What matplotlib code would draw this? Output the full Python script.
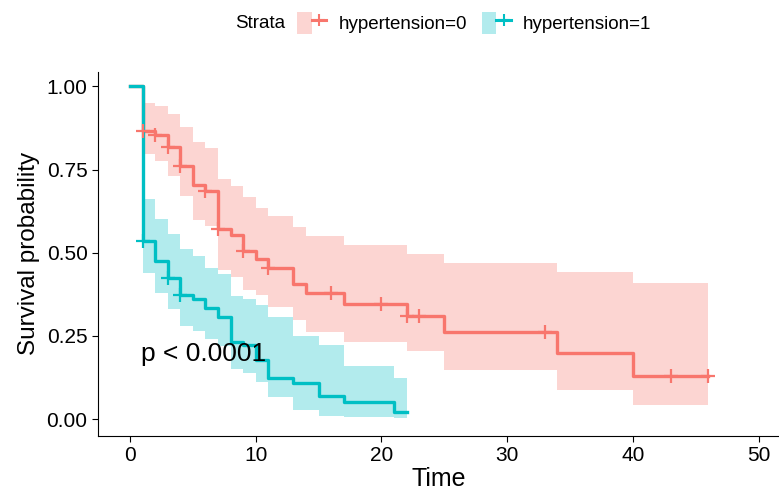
import numpy as np
import matplotlib
matplotlib.use("Agg")
import matplotlib.pyplot as plt
from matplotlib.patches import Patch
from matplotlib.lines import Line2D
from matplotlib.legend_handler import HandlerTuple

plt.rcParams['font.family'] = ['Liberation Sans', 'DejaVu Sans']

# hypertension=0
red_time = [0, 1, 2, 3, 4, 5, 6, 7, 8, 9, 10, 11, 13, 14, 17, 22, 25, 34, 40, 46]
red_surv = [1.0, 0.867, 0.855, 0.818, 0.761, 0.704, 0.684, 0.571, 0.552, 0.504,
            0.48, 0.453, 0.407, 0.38, 0.346, 0.311, 0.262, 0.198, 0.13, 0.13]
red_upper = [1.0, 0.95, 0.94, 0.917, 0.877, 0.833, 0.815, 0.722, 0.699, 0.668,
             0.635, 0.61, 0.578, 0.551, 0.524, 0.497, 0.47, 0.443, 0.41, 0.41]
red_lower = [1.0, 0.797, 0.776, 0.729, 0.669, 0.599, 0.579, 0.448, 0.428, 0.388,
             0.373, 0.338, 0.297, 0.263, 0.233, 0.203, 0.146, 0.087, 0.042, 0.042]
red_censor = [1, 2, 3, 4, 6, 7, 9, 11, 16, 20, 22, 23, 33, 43, 46]

# hypertension=1
teal_time = [0, 1, 2, 3, 4, 5, 6, 7, 8, 9, 10, 11, 13, 15, 17, 21, 22]
teal_surv = [1.0, 0.535, 0.475, 0.423, 0.374, 0.36, 0.334, 0.308, 0.233, 0.223,
             0.178, 0.122, 0.107, 0.069, 0.052, 0.022, 0.022]
teal_upper = [1.0, 0.66, 0.60, 0.555, 0.51, 0.49, 0.455, 0.435, 0.37, 0.36,
              0.344, 0.306, 0.249, 0.223, 0.158, 0.122, 0.122]
teal_lower = [1.0, 0.44, 0.38, 0.33, 0.28, 0.265, 0.24, 0.22, 0.15, 0.138,
              0.112, 0.067, 0.027, 0.008, 0.005, 0.002, 0.002]
teal_censor = [1, 3, 4]

strata = ['hypertension=0', 'hypertension=1']
colors = ['#F8766D', '#00BFC4']
x_ticks = [0, 10, 20, 30, 40, 50]
y_ticks = [0.0, 0.25, 0.5, 0.75, 1.0]
y_ticklabels = ['0.00', '0.25', '0.50', '0.75', '1.00']


def censor_levels(times, surv, cens):
    idx = np.searchsorted(times, cens, side='right') - 1
    return np.asarray(surv)[idx]


fig = plt.figure(figsize=(7.79, 4.97), dpi=100)
ax = fig.add_axes([98 / 779, 61 / 497, 681 / 779, 364.3 / 497])

groups = [
    (red_time, red_surv, red_lower, red_upper, red_censor),
    (teal_time, teal_surv, teal_lower, teal_upper, teal_censor),
]
for (t, s, lo, hi, cens), col in zip(groups, colors):
    ax.fill_between(t, lo, hi, step='post', color=col, alpha=0.3, lw=0, zorder=1)
for (t, s, lo, hi, cens), col in zip(groups, colors):
    ax.step(t, s, where='post', color=col, lw=2.4, zorder=3)
    ax.plot(cens, censor_levels(t, s, cens), ls='none', marker='+',
            color=col, markersize=9.5, mew=1.6, zorder=4)

ax.text(0.85, 0.195, 'p < 0.0001', fontsize=19, ha='left', va='center', zorder=5)

ax.set_xlim(-2.55, 51.63)
ax.set_ylim(-0.051, 1.044)
ax.set_xticks(x_ticks)
ax.set_yticks(y_ticks)
ax.set_yticklabels(y_ticklabels)
ax.tick_params(labelsize=15, length=4.5, width=0.8, pad=3, colors='black')
ax.spines['top'].set_visible(False)
ax.spines['right'].set_visible(False)
ax.spines['left'].set_linewidth(0.8)
ax.spines['bottom'].set_linewidth(0.8)
ax.set_xlabel('Time', fontsize=18, labelpad=1)
ax.set_ylabel('Survival probability', fontsize=17.5, labelpad=5)

handles = []
for col in colors:
    handles.append((Patch(facecolor=col, alpha=0.3, lw=0),
                    Line2D([], [], color=col, lw=2.2, marker='+', markersize=9, mew=1.5)))
fig.text(235 / 779, 1 - 24 / 497, 'Strata', fontsize=13.5, ha='left', va='center')
fig.legend(handles, strata, loc='center left', bbox_to_anchor=(297 / 779, 1 - 23 / 497),
           ncol=2, frameon=False, fontsize=13.5, handlelength=1.55, handleheight=1.5,
           handletextpad=0.65, columnspacing=0.8, borderpad=0, borderaxespad=0,
           handler_map={tuple: HandlerTuple(ndivide=None)})

fig.savefig('out.png', dpi=100)
